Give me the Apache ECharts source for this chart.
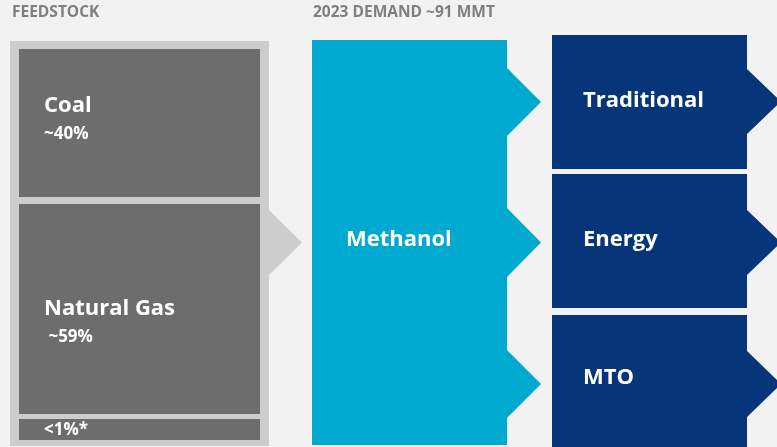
<!DOCTYPE html>
<html><head><meta charset="utf-8">
<script src="https://cdn.jsdelivr.net/npm/echarts@6/dist/echarts.min.js"></script>
<style>html,body{margin:0;padding:0;background:#f2f2f2}#c{width:777px;height:447px}</style>
</head><body><div id="c"></div>
<script>
// ---- data ----
const headers = ['FEEDSTOCK', '2023 DEMAND ~91 MMT'];
const feedstockNames = ['Coal', 'Natural Gas', ''];
const feedstockShares = ['~40%', ' ~59%', '<1%*'];
const productName = ['Methanol'];
const endUses = ['Traditional', 'Energy', 'MTO'];

// ---- layout (diagram units = px of the 777x447 canvas) ----
const FONT = '"Open Sans", Lato, sans-serif';
const L = {
  panel: { x0: 10, y0: 41, x1: 269, y1: 446, aTop: 210, aBot: 275, tip: 302 },
  feed: { x0: 19, x1: 260, rows: [[49, 197], [204, 414], [419, 440]],
          nameX: 44, nameY: [106, 309, 0], shareX: 44, shareY: [134, 337, 430] },
  meth: { x0: 312, x1: 507, y0: 40, y1: 445, tip: 541,
          notches: [[68, 136], [208, 277], [350, 418]], textX: 346, textY: 240 },
  uses: { x0: 552, x1: 747, tip: 781, rows: [[35, 169], [174, 308], [315, 447]],
          notches: [[69, 134], [210, 275], [351, 417]], textX: 583, textY: [101, 240, 378] }
};
const C = { bg: '#f2f2f2', panel: '#cdcdcd', feed: '#6d6d6d', meth: '#00a9cf', uses: '#07357a', head: '#7f7f7f' };
const SZ = { name: 22, share: 17, head: 15.5 };

function pts(api, arr) { return arr.map(p => api.coord(p)); }
function txt(api, s, x, y, size) {
  const p = api.coord([x, y]);
  return { type: 'text', style: { text: s, x: p[0], y: p[1], fill: '#fff', fontFamily: FONT,
    fontWeight: 'bold', fontSize: size, verticalAlign: 'middle', align: 'left' } };
}

const chart = echarts.init(document.getElementById('c'), null, { renderer: 'canvas' });
chart.setOption({
  backgroundColor: C.bg,
  animation: false,
  title: [
    { text: headers[0], left: 7, top: 0, textStyle: { fontFamily: FONT, fontWeight: 'bold', fontSize: SZ.head, color: C.head } },
    { text: headers[1], left: 308, top: 0, textStyle: { fontFamily: FONT, fontWeight: 'bold', fontSize: SZ.head, color: C.head } }
  ],
  grid: { left: 0, right: 0, top: 0, bottom: 0 },
  xAxis: { type: 'value', min: 0, max: 777, show: false },
  yAxis: { type: 'value', min: 0, max: 447, inverse: true, show: false },
  series: [
    { type: 'custom', silent: true, clip: false, data: [[0]],
      renderItem: (params, api) => {
        const P = L.panel;
        return { type: 'polygon', shape: { points: pts(api, [[P.x0, P.y0], [P.x1, P.y0], [P.x1, P.aTop],
          [P.tip, (P.aTop + P.aBot) / 2], [P.x1, P.aBot], [P.x1, P.y1], [P.x0, P.y1]]) }, style: { fill: C.panel } };
      } },
    { type: 'custom', silent: true, clip: false, data: feedstockNames.map((n, i) => [i]),
      renderItem: (params, api) => {
        const i = api.value(0), F = L.feed, r = F.rows[i];
        const a = api.coord([F.x0, r[0]]), b = api.coord([F.x1, r[1]]);
        const ch = [{ type: 'rect', shape: { x: a[0], y: a[1], width: b[0] - a[0], height: b[1] - a[1] }, style: { fill: C.feed } }];
        if (feedstockNames[i]) ch.push(txt(api, feedstockNames[i], F.nameX, F.nameY[i], SZ.name));
        ch.push(txt(api, feedstockShares[i], F.shareX, F.shareY[i], SZ.share));
        return { type: 'group', children: ch };
      } },
    { type: 'custom', silent: true, clip: false, data: productName.map((n, i) => [i]),
      renderItem: (params, api) => {
        const M = L.meth, p = [[M.x0, M.y0], [M.x1, M.y0]];
        M.notches.forEach(n => { p.push([M.x1, n[0]], [M.tip, (n[0] + n[1]) / 2], [M.x1, n[1]]); });
        p.push([M.x1, M.y1], [M.x0, M.y1]);
        return { type: 'group', children: [
          { type: 'polygon', shape: { points: pts(api, p) }, style: { fill: C.meth } },
          txt(api, productName[0], M.textX, M.textY, SZ.name) ] };
      } },
    { type: 'custom', silent: true, clip: false, data: endUses.map((n, i) => [i]),
      renderItem: (params, api) => {
        const i = api.value(0), U = L.uses, r = U.rows[i], n = U.notches[i];
        const p = [[U.x0, r[0]], [U.x1, r[0]], [U.x1, n[0]], [U.tip, (n[0] + n[1]) / 2], [U.x1, n[1]], [U.x1, r[1]], [U.x0, r[1]]];
        return { type: 'group', children: [
          { type: 'polygon', shape: { points: pts(api, p) }, style: { fill: C.uses } },
          txt(api, endUses[i], U.textX, U.textY[i], SZ.name) ] };
      } }
  ]
});
</script></body></html>
